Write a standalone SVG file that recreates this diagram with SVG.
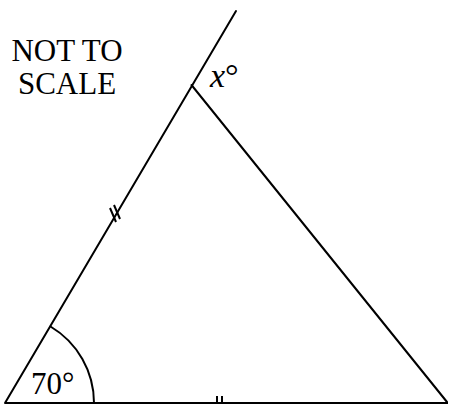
<svg xmlns="http://www.w3.org/2000/svg" width="451" height="406" viewBox="0 0 451 406">
<style>
.ln{stroke:#000;stroke-width:2;fill:none;stroke-linecap:round}
.tk{stroke:#000;stroke-width:2;fill:none}
.t{font-family:"Liberation Serif","Times New Roman",serif;font-size:31px;fill:#000}
</style>
<rect width="451" height="406" fill="#fff"/>
<g id="connectors">
<line class="ln" x1="5" y1="403" x2="236" y2="11"/>
<line class="ln" x1="191.5" y1="85" x2="447" y2="402"/>
<line x1="5" y1="403" x2="448" y2="403" stroke="#000" stroke-width="2"/>
<path class="ln" d="M50.5,326.5 A89,89 0 0 1 94,403"/>
<path class="tk" d="M110,208 L116,222 M114,205 L120,219"/>
<path class="tk" d="M217,396 L217,403 M222,396 L222,403"/>
</g>
<g id="label-not-to-scale">
<text class="t" x="67" y="61" text-anchor="middle">NOT TO</text>
<text class="t" x="67" y="94" text-anchor="middle">SCALE</text>
</g>
<g id="label-x">
<text class="t" x="210" y="87" style="font-size:34px"><tspan font-style="italic">x</tspan>°</text>
</g>
<g id="label-70">
<text class="t" x="31" y="394">70°</text>
</g>
</svg>
